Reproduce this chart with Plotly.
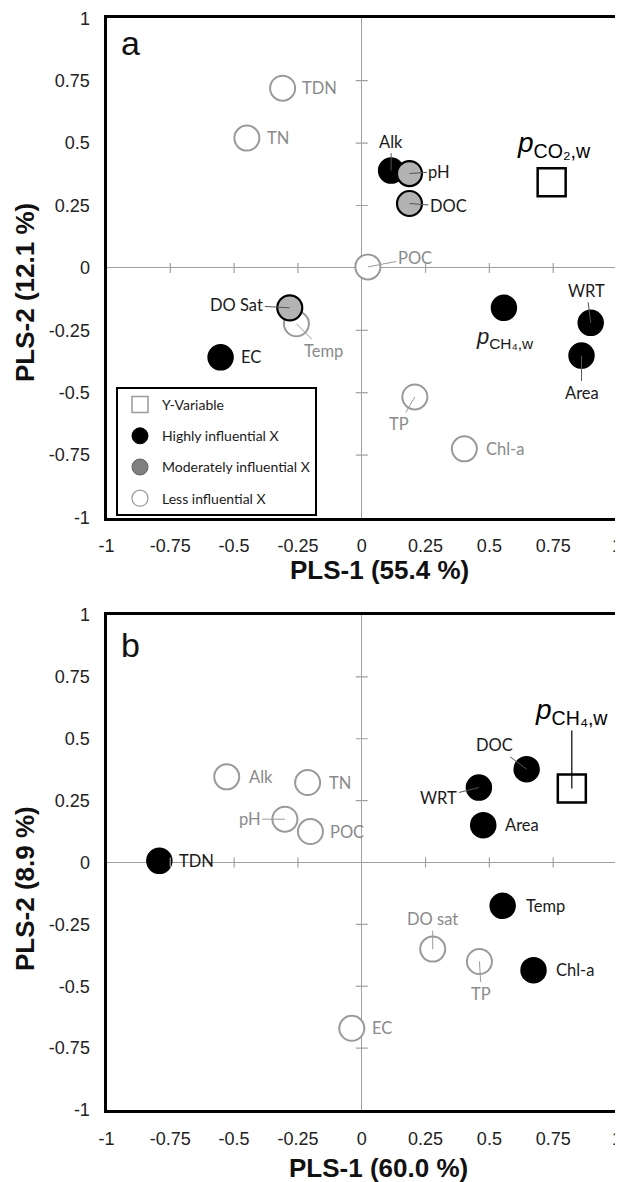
import plotly.graph_objects as go

# ---------------- DATA ----------------
tick_vals = [-1, -0.75, -0.5, -0.25, 0, 0.25, 0.5, 0.75, 1]
tick_text = ["-1", "-0.75", "-0.5", "-0.25", "0", "0.25", "0.5", "0.75", "1"]

# Panel a : Y = pCO2,w
names_a = ["TDN", "TN", "Alk", "pH", "DOC", "POC", "DO Sat", "Temp", "EC",
           "pCH4", "WRT", "Area", "TP", "Chl-a"]
pls1_a = [-0.31, -0.45, 0.115, 0.187, 0.187, 0.024, -0.282, -0.256, -0.553,
          0.557, 0.897, 0.861, 0.208, 0.402]
pls2_a = [0.72, 0.52, 0.39, 0.378, 0.258, 0.004, -0.16, -0.224, -0.358,
          -0.16, -0.22, -0.351, -0.517, -0.725]
class_a = ["less", "less", "high", "mod", "mod", "less", "mod", "less", "high",
           "high", "high", "high", "less", "less"]
yvar_a = ["pCO2"]
yvar_pls1_a = [0.744]
yvar_pls2_a = [0.343]

# Panel b : Y = pCH4,w
names_b = ["Alk", "TN", "pH", "POC", "TDN", "WRT", "DOC", "Area", "Temp",
           "Chl-a", "DO sat", "TP", "EC"]
pls1_b = [-0.529, -0.212, -0.301, -0.201, -0.793, 0.459, 0.646, 0.476, 0.552,
          0.673, 0.278, 0.461, -0.039]
pls2_b = [0.346, 0.323, 0.175, 0.125, 0.007, 0.303, 0.377, 0.151, -0.175,
          -0.435, -0.350, -0.400, -0.670]
class_b = ["less", "less", "less", "less", "high", "high", "high", "high", "high",
           "high", "less", "less", "less"]
yvar_b = ["pCH4"]
yvar_pls1_b = [0.823]
yvar_pls2_b = [0.299]

legend_names = {"Y": "Y-Variable", "high": "Highly influential X",
                "mod": "Moderately influential X", "less": "Less influential X"}
display = {"pCH4": "<i>p</i><sub>CH₄,w</sub>", "pCO2": "<i>p</i><sub>CO₂,w</sub>"}

# ---------------- STYLE ----------------
PAGE_OFF = 8            # default body margin of the html page
W, H = 623 - PAGE_OFF, 1182 - PAGE_OFF

def px(x):
    return (x - PAGE_OFF) / W

def py(y):
    return 1 - (y - PAGE_OFF) / H

STY = {
    "high": dict(fill="#000000", line="#000000", lw=1.5, txt="#1a1a1a", lead="#555555"),
    "mod": dict(fill="#b3b3b3", line="#000000", lw=2.2, txt="#1a1a1a", lead="#555555"),
    "less": dict(fill="#ffffff", line="#9a9a9a", lw=2.0, txt="#8a8a8a", lead="#9a9a9a"),
}
LABEL_FONT = "Lato"
NUM_FONT = "Liberation Sans"

# label offsets in pixels (text centre relative to marker), leader flag
off_a = {
    "TDN": (37, 0, False), "TN": (31, 0, False), "Alk": (0, -29, True),
    "pH": (30, -2, True), "DOC": (39, 3, True), "POC": (47, -9, True),
    "DO Sat": (-53, -3, True), "Temp": (27, 27, True), "EC": (30, 0, False),
    "pCH4": (1, 30, False), "WRT": (-4, -32, True), "Area": (0, 37, True),
    "TP": (-16, 27, True), "Chl-a": (41, 0, False),
}
off_b = {
    "Alk": (34, 0, False), "TN": (32, 0, False), "pH": (-35, 0, True),
    "POC": (37, 0, False), "TDN": (37, 0, False), "WRT": (-40, 10, True),
    "DOC": (-32, -24, True), "Area": (39, 0, False), "Temp": (43, 0, False),
    "Chl-a": (41, 0, False), "DO sat": (0, -30, True), "TP": (2, 32, True),
    "EC": (30, 0, False),
}

fig = go.Figure()

def add_panel(names, xs, ys, classes, yv, yvx, yvy, xa, ya, offs, yv_off):
    for cls in ["less", "high", "mod"]:
        idx = [i for i, c in enumerate(classes) if c == cls]
        s = STY[cls]
        fig.add_trace(go.Scatter(
            x=[xs[i] for i in idx], y=[ys[i] for i in idx], mode="markers",
            marker=dict(size=25, color=s["fill"], line=dict(color=s["line"], width=s["lw"])),
            showlegend=False, xaxis=xa, yaxis=ya, hoverinfo="skip"))
    fig.add_trace(go.Scatter(
        x=yvx, y=yvy, mode="markers",
        marker=dict(symbol="square", size=28, color="white", line=dict(color="black", width=2.5)),
        showlegend=False, xaxis=xa, yaxis=ya, hoverinfo="skip"))
    for i, n in enumerate(names):
        s = STY[classes[i]]
        ax, ay, lead = offs[n]
        fig.add_annotation(
            x=xs[i], y=ys[i], xref=xa, yref=ya, text=display.get(n, n),
            showarrow=True, arrowhead=0, arrowwidth=1, standoff=0,
            arrowcolor=s["lead"] if lead else "rgba(0,0,0,0)", ax=ax, ay=ay,
            font=dict(family=LABEL_FONT if n not in display else NUM_FONT,
                      size=16.5 if n not in display else 22, color=s["txt"]))
    for j, n in enumerate(yv):
        ax, ay, lead = yv_off
        fig.add_annotation(
            x=yvx[j], y=yvy[j], xref=xa, yref=ya, text=display[n],
            showarrow=True, arrowhead=0, arrowwidth=1.2, standoff=0,
            arrowcolor="#000000" if lead else "rgba(0,0,0,0)", ax=ax, ay=ay,
            font=dict(family=NUM_FONT, size=28, color="#000000"))
    # cross tick marks on the zero lines
    for v in [-0.75, -0.5, -0.25, 0.25, 0.5, 0.75]:
        fig.add_shape(type="line", xref=xa, yref=ya, x0=v, x1=v, ysizemode="pixel",
                      yanchor=0, y0=-5, y1=5, line=dict(color="#a0a0a0", width=1.2))
        fig.add_shape(type="line", xref=xa, yref=ya, y0=v, y1=v, xsizemode="pixel",
                      xanchor=0, x0=-6, x1=6, line=dict(color="#a0a0a0", width=1.2))

add_panel(names_a, pls1_a, pls2_a, class_a, yvar_a, yvar_pls1_a, yvar_pls2_a,
          "x", "y", off_a, (2, -38, False))
add_panel(names_b, pls1_b, pls2_b, class_b, yvar_b, yvar_pls1_b, yvar_pls2_b,
          "x2", "y2", off_b, (0, -77, True))

# legend entries
leg_style = {
    "Y": dict(symbol="square", color="white", line=dict(color="#9a9a9a", width=1.5)),
    "high": dict(symbol="circle", color="black", line=dict(color="black", width=1)),
    "mod": dict(symbol="circle", color="#808080", line=dict(color="#606060", width=1)),
    "less": dict(symbol="circle", color="white", line=dict(color="#9a9a9a", width=1.2)),
}
for k, key in enumerate(["Y", "high", "mod", "less"]):
    fig.add_trace(go.Scatter(x=[None], y=[None], mode="markers", name=legend_names[key],
                             marker=dict(size=20, **leg_style[key]), legendgroup=key,
                             legendrank=k + 1, showlegend=True, xaxis="x", yaxis="y"))

xd = [px(106.5), px(617)]
ax_common = dict(range=[-1, 1], tickvals=tick_vals, ticktext=tick_text, showgrid=False,
                 zeroline=True, zerolinecolor="#a0a0a0", zerolinewidth=1.2,
                 showline=True, linecolor="black", linewidth=3, mirror=True, ticks="",
                 ticklabelstandoff=10, ticklabeloverflow="allow", automargin=False,
                 tickfont=dict(family=NUM_FONT, size=18, color="#222222"), fixedrange=True)
fig.update_layout(
    width=W, height=H, margin=dict(l=0, r=0, t=0, b=0, autoexpand=False),
    paper_bgcolor="white", plot_bgcolor="white",
    xaxis=dict(domain=xd, anchor="y", **ax_common),
    yaxis=dict(domain=[py(517.5), py(18.3)], anchor="x", **ax_common),
    xaxis2=dict(domain=xd, anchor="y2", **ax_common),
    yaxis2=dict(domain=[py(1110), py(615)], anchor="x2", **ax_common),
    legend=dict(x=px(116), y=py(387), xanchor="left", yanchor="top",
                bordercolor="black", borderwidth=2, bgcolor="white",
                font=dict(family=LABEL_FONT, size=14, color="#1a1a1a"),
                tracegroupgap=10, itemsizing="trace", itemwidth=34),
)

title_font = dict(family=NUM_FONT, size=26, color="#111111")
for txt, x, y, ang in [("<b>PLS-1 (55.4 %)</b>", 379, 570, 0),
                       ("<b>PLS-2 (12.1 %)</b>", 25, 293, -90),
                       ("<b>PLS-1 (60.0 %)</b>", 378, 1168, 0),
                       ("<b>PLS-2 (8.9 %)</b>", 25, 889, -90)]:
    fig.add_annotation(x=px(x), y=py(y), xref="paper", yref="paper", text=txt,
                       showarrow=False, textangle=ang, font=title_font,
                       xanchor="center", yanchor="middle")
for txt, x, y in [("a", 130, 43), ("b", 130, 645)]:
    fig.add_annotation(x=px(x), y=py(y), xref="paper", yref="paper", text=txt,
                       showarrow=False, font=dict(family=NUM_FONT, size=34, color="#111111"),
                       xanchor="center", yanchor="middle")

fig.write_html("out.html")
